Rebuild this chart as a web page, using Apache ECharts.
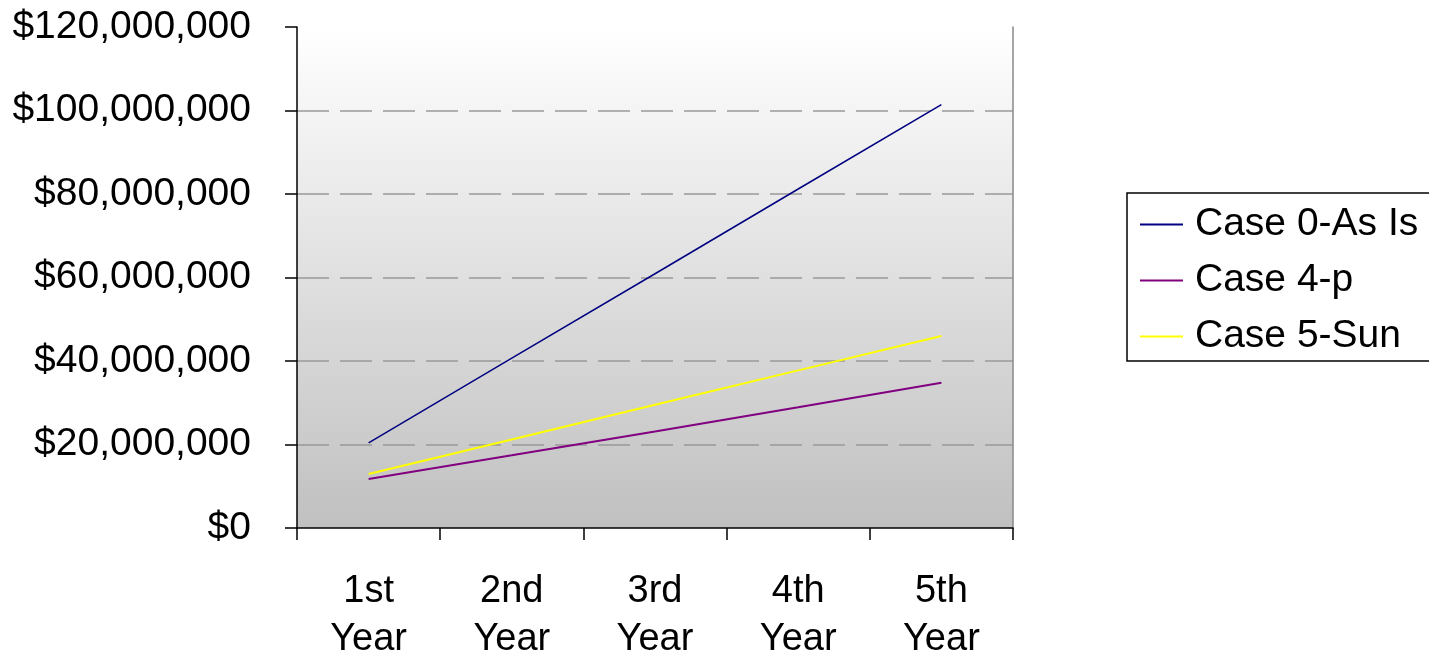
<!DOCTYPE html>
<html><head><meta charset="utf-8">
<script src="https://cdn.jsdelivr.net/npm/echarts@6/dist/echarts.min.js"></script>
<style>html,body{margin:0;padding:0;background:#fff}#c{width:1429px;height:656px}</style>
</head><body><div id="c"></div>
<script>
const categories = ['1st\nYear', '2nd\nYear', '3rd\nYear', '4th\nYear', '5th\nYear'];
const seriesNames = ['Case 0-As Is', 'Case 4-p', 'Case 5-Sun'];
const case0 = [20400000, 40700000, 60900000, 81200000, 101400000];
const case4 = [11750000, 17400000, 23100000, 28900000, 34800000];
const case5 = [12950000, 21200000, 29500000, 37750000, 46000000];
const yTicks = [0, 20000000, 40000000, 60000000, 80000000, 100000000, 120000000];
const colors = ['#000080', '#800080', '#ffff00'];

const fmt = v => '$' + v.toLocaleString('en-US');
const chart = echarts.init(document.getElementById('c'));
const font = 'Liberation Sans, Arial, sans-serif';
chart.setOption({
  animation: false,
  textStyle: {fontFamily: font},
  grid: {
    left: 297, right: 416, top: 27, bottom: 128, show: true, borderWidth: 0,
    containLabel: false, outerBoundsMode: 'none',
    backgroundColor: new echarts.graphic.LinearGradient(0, 0, 0, 1, [
      {offset: 0, color: '#ffffff'}, {offset: 1, color: '#c0c0c0'}])
  },
  legend: {
    orient: 'vertical', left: 1127, top: 193,
    padding: [11, 14, 4, 13], itemGap: 15,
    itemWidth: 43, itemHeight: 2, icon: 'rect',
    borderColor: '#000', borderWidth: 1.5,
    textStyle: {fontSize: 39, color: '#000', fontFamily: font, lineHeight: 41, padding: [0, 0, 0, 7]},
    data: seriesNames
  },
  xAxis: {
    type: 'category', data: categories, boundaryGap: true,
    axisLine: {lineStyle: {color: '#000', width: 1.5}},
    axisTick: {show: true, interval: 0, length: 12, lineStyle: {color: '#000', width: 1.5}},
    axisLabel: {fontSize: 38, color: '#000', lineHeight: 48, margin: 40, fontFamily: font, interval: 0}
  },
  yAxis: [{
    type: 'value', min: yTicks[0], max: yTicks[yTicks.length - 1], interval: yTicks[1] - yTicks[0],
    axisLine: {show: true, lineStyle: {color: '#000', width: 1.5}},
    axisTick: {show: true, length: 12, lineStyle: {color: '#000', width: 1.5}},
    axisLabel: {fontSize: 39, color: '#000', margin: 46, formatter: fmt, fontFamily: font},
    splitLine: {show: true, showMaxLine: false, showMinLine: false,
      lineStyle: {color: '#999', type: [32, 11], width: 1.5}}
  }, {
    type: 'value', position: 'right', min: yTicks[0], max: yTicks[yTicks.length - 1],
    axisLine: {show: true, lineStyle: {color: '#888', width: 1.5}},
    axisTick: {show: false}, axisLabel: {show: false}, splitLine: {show: false}
  }],
  series: [
    {name: seriesNames[0], type: 'line', data: case0, showSymbol: false, color: colors[0], lineStyle: {width: 1.5}},
    {name: seriesNames[1], type: 'line', data: case4, showSymbol: false, color: colors[1], lineStyle: {width: 2}},
    {name: seriesNames[2], type: 'line', data: case5, showSymbol: false, color: colors[2], lineStyle: {width: 2}}
  ]
});
</script></body></html>
